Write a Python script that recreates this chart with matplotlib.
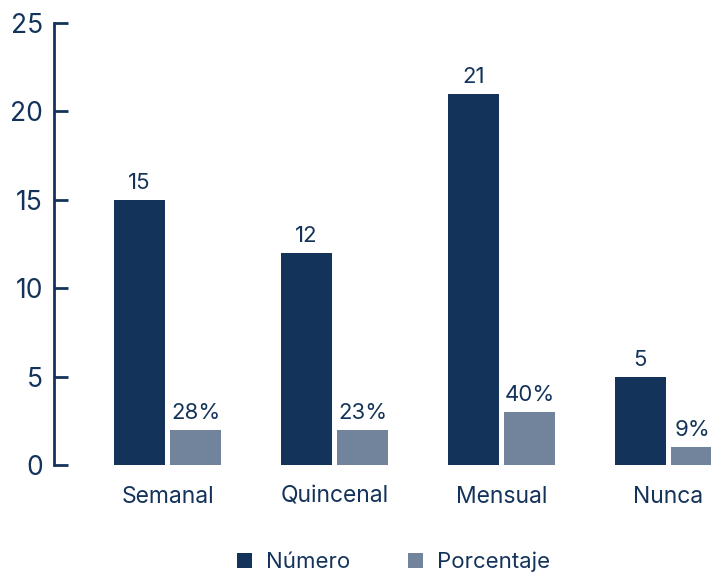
import numpy as np
import matplotlib.pyplot as plt

plt.rcParams['font.family'] = ['Inter', 'DejaVu Sans']

categorias = ['Semanal', 'Quincenal', 'Mensual', 'Nunca']
numero = [15, 12, 21, 5]
porcentaje_altura = [2, 2, 3, 1]
porcentaje_etiquetas = ['28%', '23%', '40%', '9%']

oscuro = '#14335a'
claro = '#71849c'

fig = plt.figure(figsize=(7.11, 5.73), dpi=100)
ax = fig.add_axes([54 / 711, 0.1885, 1 - 54 / 711, 0.960 - 0.1885])

x = np.arange(len(categorias))
ancho = 0.305
b1 = ax.bar(x - 0.168, numero, ancho, color=oscuro, label='Número')
b2 = ax.bar(x + 0.168, porcentaje_altura, ancho, color=claro, label='Porcentaje')

ax.bar_label(b1, labels=[str(v) for v in numero], padding=5, fontsize=16, color=oscuro)
etq = ax.bar_label(b2, labels=porcentaje_etiquetas, padding=5, fontsize=16, color=oscuro)
# la última etiqueta queda pegada al borde derecho: se corre un poco
etq[-1].xyann = (-3, 5)

ax.set_xlim(-0.68, 3.255)
ax.set_ylim(0, 25)
ax.set_yticks([0, 5, 10, 15, 20, 25])
ax.set_xticks(x)
ax.set_xticklabels(categorias)

for s in ['top', 'right', 'bottom']:
    ax.spines[s].set_visible(False)
ax.spines['left'].set_color(oscuro)
ax.spines['left'].set_linewidth(2)

ax.tick_params(axis='y', direction='in', length=10, width=2, color=oscuro,
               labelsize=19, labelcolor=oscuro, pad=8)
ax.tick_params(axis='x', length=0, labelsize=16.5, labelcolor=oscuro, pad=15)

fig.legend(loc='center', bbox_to_anchor=(0.553, 1 - 562 / 573), ncol=2, frameon=False,
           fontsize=16, labelcolor=oscuro, handlelength=0.7, handleheight=0.7,
           columnspacing=2.6, handletextpad=0.6)

fig.savefig('out.png', dpi=100)
